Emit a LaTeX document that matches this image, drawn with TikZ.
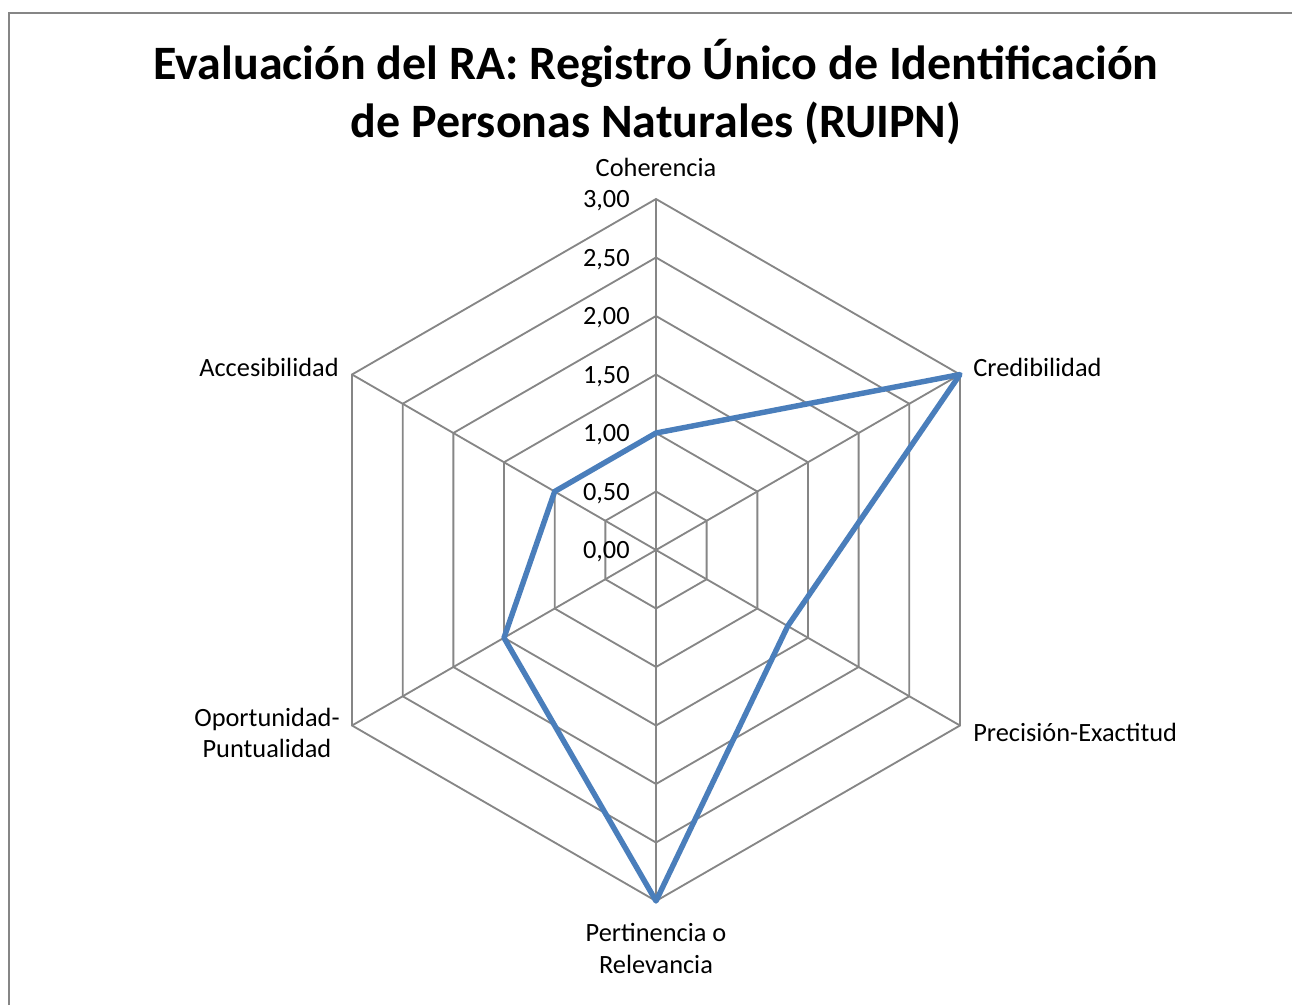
\documentclass[tikz,border=0pt]{standalone}
\usepackage{fontspec}
\setmainfont{Carlito}
\begin{document}
\begin{tikzpicture}[x=0.02cm,y=-0.02cm,
  lbl/.style={font=\fontsize{15pt}{18pt}\selectfont, inner sep=0pt, align=center},
  tick/.style={font=\fontsize{15pt}{18pt}\selectfont, inner sep=0pt, anchor=east},
  ttl/.style={font=\fontsize{27.3pt}{33.5pt}\selectfont\bfseries, inner sep=0pt, align=center},
  gridline/.style={draw=gridgray, line width=1.05pt},
  series/.style={draw=serieblue, line width=3.1pt, line join=round}]
\definecolor{serieblue}{HTML}{4A7EBB}
\definecolor{gridgray}{HTML}{868686}
\useasboundingbox (0,0) rectangle (1292,1005);
% frame (cut at right and bottom)
\draw[draw=gridgray, line width=1.2pt] (9,1005) -- (9,13) -- (1292,13);
% title
\node[ttl] (title) at (656,92) {Evaluación del RA: Registro Único de Identificación\\de Personas Naturales (RUIPN)};
% grid hexagons
\foreach \k in {1,...,6} {
  \draw[gridline]
    ({656+58.5*\k*cos(90)},{550-58.5*\k*sin(90)})
    \foreach \a in {30,-30,-90,-150,-210} { -- ({656+58.5*\k*cos(\a)},{550-58.5*\k*sin(\a)}) } -- cycle;
}
% spokes
\coordinate (c) at (656,550);
\foreach \a/\n in {90/a1,30/a2,-30/a3,-90/a4,-150/a5,150/a6} {
  \coordinate (\n) at ({656+351*cos(\a)},{550-351*sin(\a)});
  \draw[gridline] (c) -- (\n);
}
% tick labels
\foreach \k/\t in {0/{0,00},1/{0,50},2/{1,00},3/{1,50},4/{2,00},5/{2,50},6/{3,00}} {
  \node[tick] (t\k) at (630,{552-58.5*\k}) {\t};
}
% axis labels
\node[lbl, anchor=south] (l1) at (656,177) {Coherencia};
\node[lbl, anchor=west] (l2) at (973,367) {Credibilidad};
\node[lbl, anchor=west] (l3) at (973,732) {Precisión-Exactitud};
\node[lbl, anchor=north] (l4) at (656,923) {Pertinencia o\\Relevancia};
\node[lbl, anchor=east] (l5) at (340,733) {Oportunidad-\\Puntualidad};
\node[lbl, anchor=east] (l6) at (339,367) {Accesibilidad};
% data
\coordinate (d1) at ({656+117*1.0*cos(90)},{550-117*1.0*sin(90)});
\coordinate (d2) at ({656+117*3.0*cos(30)},{550-117*3.0*sin(30)});
\coordinate (d3) at ({656+117*1.3*cos(-30)},{550-117*1.3*sin(-30)});
\coordinate (d4) at ({656+117*3.0*cos(-90)},{550-117*3.0*sin(-90)});
\coordinate (d5) at ({656+117*1.5*cos(-150)},{550-117*1.5*sin(-150)});
\coordinate (d6) at ({656+117*1.0*cos(150)},{550-117*1.0*sin(150)});
\draw[series] (d1) -- (d2) -- (d3) -- (d4) -- (d5) -- (d6) -- cycle;
\end{tikzpicture}
\end{document}
